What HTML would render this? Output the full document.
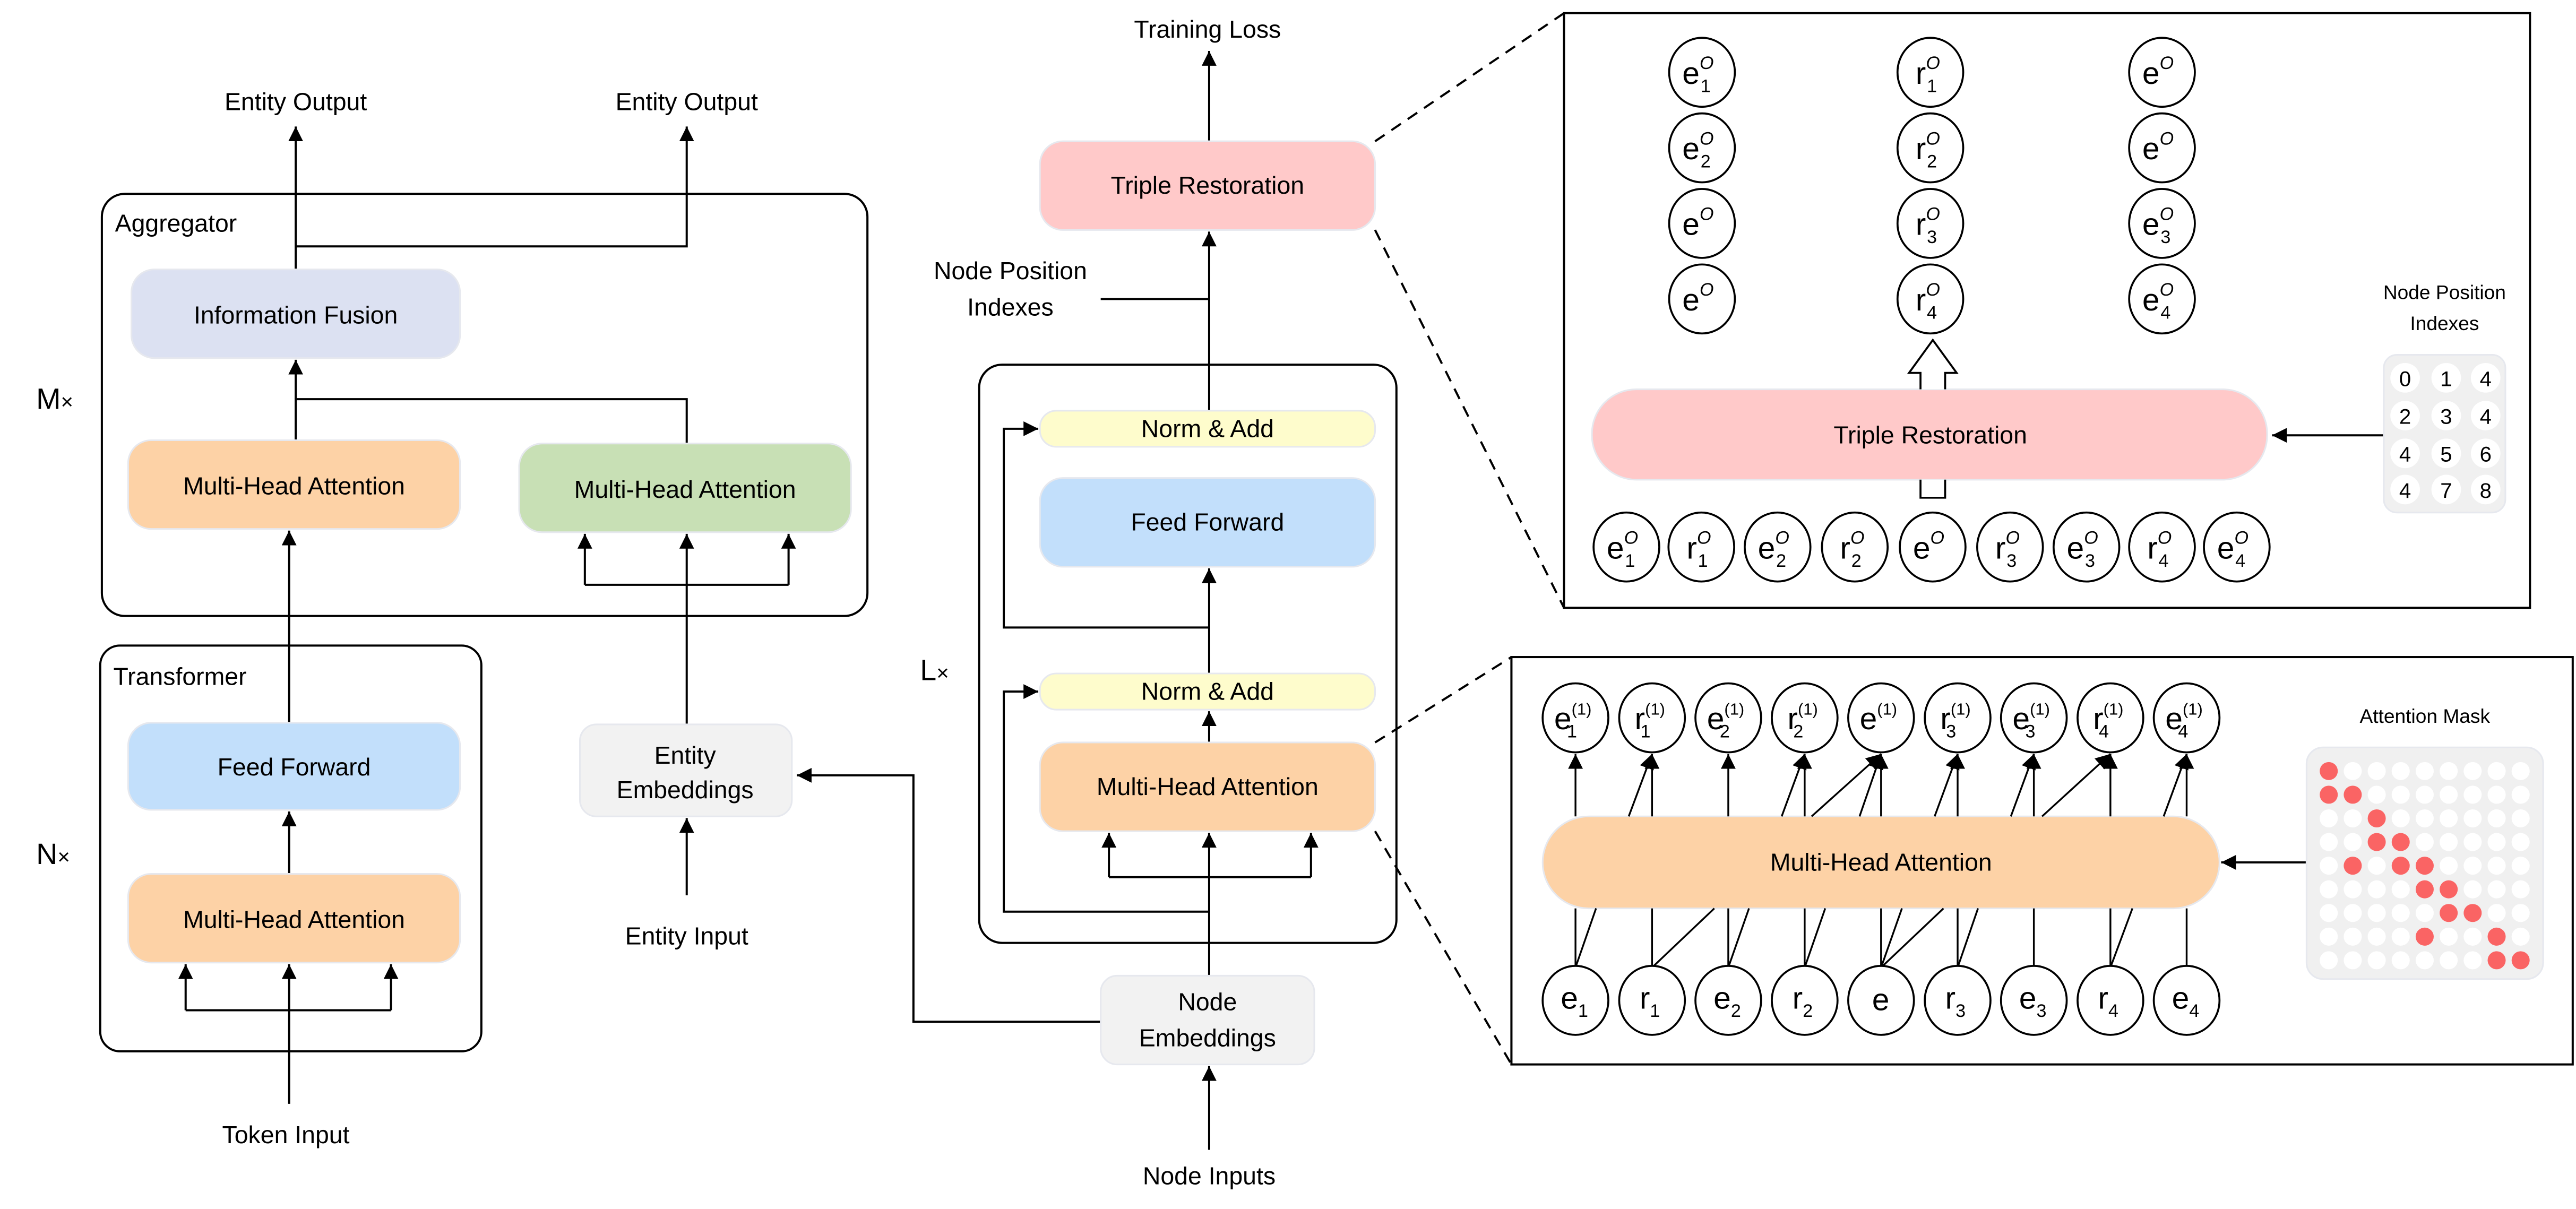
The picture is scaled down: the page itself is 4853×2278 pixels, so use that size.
<!DOCTYPE html>
<html><head><meta charset="utf-8"><style>
html,body{margin:0;padding:0;background:#fff;}
svg{display:block;}
text{font-family:"Liberation Sans",sans-serif;fill:#000;}
</style></head><body>
<svg width="4853" height="2278" viewBox="0 0 1568 736" xmlns="http://www.w3.org/2000/svg">
<defs>
<marker id="a" viewBox="0 0 10 10" refX="10" refY="5" markerWidth="9" markerHeight="9" markerUnits="userSpaceOnUse" orient="auto"><path d="M0,0 L10,5 L0,10 z" fill="#000"/></marker>
</defs>
<g stroke="#000" stroke-width="1.3" fill="none">
<!-- left part -->
<rect x="62" y="118" width="466" height="257" rx="14"/>
<rect x="61" y="393" width="232" height="247" rx="12"/>
<line x1="180" y1="164" x2="180" y2="77" marker-end="url(#a)"/>
<polyline points="180,150 418,150 418,77" marker-end="url(#a)"/>
<polyline points="180,268 180,243 418,243 418,270"/>
<line x1="180" y1="243" x2="180" y2="219" marker-end="url(#a)"/>
<line x1="176" y1="440" x2="176" y2="323" marker-end="url(#a)"/>
<line x1="176" y1="532" x2="176" y2="494" marker-end="url(#a)"/>
<polyline points="356,356 480,356"/>
<line x1="356" y1="356" x2="356" y2="325" marker-end="url(#a)"/>
<line x1="480" y1="356" x2="480" y2="325" marker-end="url(#a)"/>
<line x1="418" y1="441" x2="418" y2="325" marker-end="url(#a)"/>
<line x1="418" y1="545" x2="418" y2="498" marker-end="url(#a)"/>
<polyline points="113,615 238,615"/>
<line x1="113" y1="615" x2="113" y2="587" marker-end="url(#a)"/>
<line x1="238" y1="615" x2="238" y2="587" marker-end="url(#a)"/>
<line x1="176" y1="672" x2="176" y2="587" marker-end="url(#a)"/>
<polyline points="670,622 556,622 556,472 485,472" marker-end="url(#a)"/>
<!-- middle -->
<rect x="596" y="222" width="254" height="352" rx="14"/>
<line x1="736" y1="86" x2="736" y2="31" marker-end="url(#a)"/>
<line x1="736" y1="250" x2="736" y2="141" marker-end="url(#a)"/>
<line x1="670" y1="182" x2="736" y2="182"/>
<line x1="736" y1="410" x2="736" y2="346" marker-end="url(#a)"/>
<polyline points="736,382 611,382 611,261 632,261" marker-end="url(#a)"/>
<line x1="736" y1="452" x2="736" y2="433" marker-end="url(#a)"/>
<polyline points="675,534 798,534"/>
<line x1="675" y1="534" x2="675" y2="507" marker-end="url(#a)"/>
<line x1="798" y1="534" x2="798" y2="507" marker-end="url(#a)"/>
<line x1="736" y1="594" x2="736" y2="507" marker-end="url(#a)"/>
<polyline points="736,555 611,555 611,421 632,421" marker-end="url(#a)"/>
<line x1="736" y1="700" x2="736" y2="649" marker-end="url(#a)"/>
<!-- dashed -->
<line x1="837" y1="86" x2="952" y2="8" stroke-dasharray="7,5"/>
<line x1="837" y1="140" x2="952" y2="370" stroke-dasharray="7,5"/>
<line x1="837" y1="452" x2="920" y2="400" stroke-dasharray="7,5"/>
<line x1="837" y1="506" x2="920" y2="648" stroke-dasharray="7,5"/>
<!-- right boxes -->
<rect x="952" y="8" width="588" height="362"/>
<rect x="920" y="400" width="646" height="248"/>
<line x1="1451" y1="265" x2="1383" y2="265" marker-end="url(#a)"/>
<line x1="1404" y1="525" x2="1352" y2="525" marker-end="url(#a)"/>
</g>
<!-- colored boxes left -->
<g stroke="#e6e8ee" stroke-width="1">
<rect x="80" y="164" width="200" height="54" rx="14" fill="#dce1f2"/>
<rect x="78" y="268" width="202" height="54" rx="14" fill="#fdd2a6"/>
<rect x="316" y="270" width="202" height="54" rx="14" fill="#c8e0b5"/>
<rect x="78" y="440" width="202" height="53" rx="14" fill="#c2dffb"/>
<rect x="78" y="532" width="202" height="54" rx="14" fill="#fdd2a6"/>
<rect x="353" y="441" width="129" height="56" rx="10" fill="#f2f2f2"/>
<rect x="633" y="86" width="204" height="54" rx="14" fill="#ffc9c9"/>
<rect x="633" y="250" width="204" height="22" rx="10" fill="#fefccc"/>
<rect x="633" y="291" width="204" height="54" rx="14" fill="#c2dffb"/>
<rect x="633" y="410" width="204" height="22" rx="10" fill="#fefccc"/>
<rect x="633" y="452" width="204" height="54" rx="14" fill="#fdd2a6"/>
<rect x="670" y="594" width="130" height="54" rx="10" fill="#f2f2f2"/>
<rect x="969" y="237" width="411" height="55" rx="27" fill="#ffc9c9"/>
<rect x="939" y="497" width="412" height="56" rx="28" fill="#fdd2a6"/>
<rect x="1451" y="216" width="74" height="96" rx="8" fill="#f0f0f0"/>
<rect x="1404" y="455" width="144" height="141" rx="10" fill="#f0f0f0"/>
</g>
<!-- texts left/middle -->
<g font-size="15" text-anchor="middle">
<text x="180" y="67">Entity Output</text>
<text x="418" y="67">Entity Output</text>
<text x="180" y="197">Information Fusion</text>
<text x="179" y="301">Multi-Head Attention</text>
<text x="417" y="303">Multi-Head Attention</text>
<text x="179" y="472">Feed Forward</text>
<text x="179" y="565">Multi-Head Attention</text>
<text x="417" y="465">Entity</text>
<text x="417" y="486">Embeddings</text>
<text x="418" y="575">Entity Input</text>
<text x="174" y="696">Token Input</text>
<text x="735" y="23">Training Loss</text>
<text x="735" y="118">Triple Restoration</text>
<text x="615" y="170">Node Position</text>
<text x="615" y="192">Indexes</text>
<text x="735" y="266">Norm &amp; Add</text>
<text x="735" y="323">Feed Forward</text>
<text x="735" y="426">Norm &amp; Add</text>
<text x="735" y="484">Multi-Head Attention</text>
<text x="735" y="615">Node</text>
<text x="735" y="637">Embeddings</text>
<text x="736" y="721">Node Inputs</text>
<text x="1175" y="270">Triple Restoration</text>
<text x="1145" y="530">Multi-Head Attention</text>
</g>
<g font-size="15">
<text x="70" y="141">Aggregator</text>
<text x="69" y="417">Transformer</text>
<text x="22" y="249" font-size="18">M<tspan font-size="13">×</tspan></text>
<text x="22" y="526" font-size="18">N<tspan font-size="13">×</tspan></text>
<text x="560" y="414" font-size="18">L<tspan font-size="13">×</tspan></text>
</g>
<g font-size="12" text-anchor="middle">
<text x="1488" y="182">Node Position</text>
<text x="1488" y="201">Indexes</text>
<text x="1476" y="440">Attention Mask</text>
</g>
<!-- index grid -->
<g fill="#fff"><circle cx="1464" cy="230" r="9"/><circle cx="1489" cy="230" r="9"/><circle cx="1513" cy="230" r="9"/><circle cx="1464" cy="253" r="9"/><circle cx="1489" cy="253" r="9"/><circle cx="1513" cy="253" r="9"/><circle cx="1464" cy="276" r="9"/><circle cx="1489" cy="276" r="9"/><circle cx="1513" cy="276" r="9"/><circle cx="1464" cy="298" r="9"/><circle cx="1489" cy="298" r="9"/><circle cx="1513" cy="298" r="9"/></g>
<g font-size="13" text-anchor="middle">
<text x="1464" y="235">0</text><text x="1489" y="235">1</text><text x="1513" y="235">4</text>
<text x="1464" y="258">2</text><text x="1489" y="258">3</text><text x="1513" y="258">4</text>
<text x="1464" y="281">4</text><text x="1489" y="281">5</text><text x="1513" y="281">6</text>
<text x="1464" y="303">4</text><text x="1489" y="303">7</text><text x="1513" y="303">8</text>
</g>
<!-- hollow arrow -->
<path d="M1169,292 L1169,303 L1184,303 L1184,292" fill="#fff" stroke="#000" stroke-width="1.2"/>
<path d="M1169,237 L1169,227 L1162,227 L1176.5,207 L1191,227 L1184,227 L1184,237" fill="#fff" stroke="#000" stroke-width="1.2"/>
<!-- attention mask dots -->
<g fill="#fff">
<circle cx="1417.5" cy="469.4" r="5.5"/><circle cx="1432.1" cy="469.4" r="5.5"/><circle cx="1446.7" cy="469.4" r="5.5"/><circle cx="1461.3" cy="469.4" r="5.5"/><circle cx="1475.9" cy="469.4" r="5.5"/><circle cx="1490.5" cy="469.4" r="5.5"/><circle cx="1505.1" cy="469.4" r="5.5"/><circle cx="1519.7" cy="469.4" r="5.5"/><circle cx="1534.3" cy="469.4" r="5.5"/>
<circle cx="1417.5" cy="483.8" r="5.5"/><circle cx="1432.1" cy="483.8" r="5.5"/><circle cx="1446.7" cy="483.8" r="5.5"/><circle cx="1461.3" cy="483.8" r="5.5"/><circle cx="1475.9" cy="483.8" r="5.5"/><circle cx="1490.5" cy="483.8" r="5.5"/><circle cx="1505.1" cy="483.8" r="5.5"/><circle cx="1519.7" cy="483.8" r="5.5"/><circle cx="1534.3" cy="483.8" r="5.5"/>
<circle cx="1417.5" cy="498.2" r="5.5"/><circle cx="1432.1" cy="498.2" r="5.5"/><circle cx="1446.7" cy="498.2" r="5.5"/><circle cx="1461.3" cy="498.2" r="5.5"/><circle cx="1475.9" cy="498.2" r="5.5"/><circle cx="1490.5" cy="498.2" r="5.5"/><circle cx="1505.1" cy="498.2" r="5.5"/><circle cx="1519.7" cy="498.2" r="5.5"/><circle cx="1534.3" cy="498.2" r="5.5"/>
<circle cx="1417.5" cy="512.6" r="5.5"/><circle cx="1432.1" cy="512.6" r="5.5"/><circle cx="1446.7" cy="512.6" r="5.5"/><circle cx="1461.3" cy="512.6" r="5.5"/><circle cx="1475.9" cy="512.6" r="5.5"/><circle cx="1490.5" cy="512.6" r="5.5"/><circle cx="1505.1" cy="512.6" r="5.5"/><circle cx="1519.7" cy="512.6" r="5.5"/><circle cx="1534.3" cy="512.6" r="5.5"/>
<circle cx="1417.5" cy="527" r="5.5"/><circle cx="1432.1" cy="527" r="5.5"/><circle cx="1446.7" cy="527" r="5.5"/><circle cx="1461.3" cy="527" r="5.5"/><circle cx="1475.9" cy="527" r="5.5"/><circle cx="1490.5" cy="527" r="5.5"/><circle cx="1505.1" cy="527" r="5.5"/><circle cx="1519.7" cy="527" r="5.5"/><circle cx="1534.3" cy="527" r="5.5"/>
<circle cx="1417.5" cy="541.4" r="5.5"/><circle cx="1432.1" cy="541.4" r="5.5"/><circle cx="1446.7" cy="541.4" r="5.5"/><circle cx="1461.3" cy="541.4" r="5.5"/><circle cx="1475.9" cy="541.4" r="5.5"/><circle cx="1490.5" cy="541.4" r="5.5"/><circle cx="1505.1" cy="541.4" r="5.5"/><circle cx="1519.7" cy="541.4" r="5.5"/><circle cx="1534.3" cy="541.4" r="5.5"/>
<circle cx="1417.5" cy="555.8" r="5.5"/><circle cx="1432.1" cy="555.8" r="5.5"/><circle cx="1446.7" cy="555.8" r="5.5"/><circle cx="1461.3" cy="555.8" r="5.5"/><circle cx="1475.9" cy="555.8" r="5.5"/><circle cx="1490.5" cy="555.8" r="5.5"/><circle cx="1505.1" cy="555.8" r="5.5"/><circle cx="1519.7" cy="555.8" r="5.5"/><circle cx="1534.3" cy="555.8" r="5.5"/>
<circle cx="1417.5" cy="570.2" r="5.5"/><circle cx="1432.1" cy="570.2" r="5.5"/><circle cx="1446.7" cy="570.2" r="5.5"/><circle cx="1461.3" cy="570.2" r="5.5"/><circle cx="1475.9" cy="570.2" r="5.5"/><circle cx="1490.5" cy="570.2" r="5.5"/><circle cx="1505.1" cy="570.2" r="5.5"/><circle cx="1519.7" cy="570.2" r="5.5"/><circle cx="1534.3" cy="570.2" r="5.5"/>
<circle cx="1417.5" cy="584.6" r="5.5"/><circle cx="1432.1" cy="584.6" r="5.5"/><circle cx="1446.7" cy="584.6" r="5.5"/><circle cx="1461.3" cy="584.6" r="5.5"/><circle cx="1475.9" cy="584.6" r="5.5"/><circle cx="1490.5" cy="584.6" r="5.5"/><circle cx="1505.1" cy="584.6" r="5.5"/><circle cx="1519.7" cy="584.6" r="5.5"/><circle cx="1534.3" cy="584.6" r="5.5"/>
</g>
<g fill="#fa6464">
<circle cx="1417.5" cy="469.4" r="5.5"/>
<circle cx="1417.5" cy="483.8" r="5.5"/><circle cx="1432.1" cy="483.8" r="5.5"/>
<circle cx="1446.7" cy="498.2" r="5.5"/>
<circle cx="1446.7" cy="512.6" r="5.5"/><circle cx="1461.3" cy="512.6" r="5.5"/>
<circle cx="1432.1" cy="527" r="5.5"/><circle cx="1461.3" cy="527" r="5.5"/><circle cx="1475.9" cy="527" r="5.5"/>
<circle cx="1475.9" cy="541.4" r="5.5"/><circle cx="1490.5" cy="541.4" r="5.5"/>
<circle cx="1490.5" cy="555.8" r="5.5"/><circle cx="1505.1" cy="555.8" r="5.5"/>
<circle cx="1475.9" cy="570.2" r="5.5"/><circle cx="1519.7" cy="570.2" r="5.5"/>
<circle cx="1519.7" cy="584.6" r="5.5"/><circle cx="1534.3" cy="584.6" r="5.5"/>
</g>
<!-- lower box connections -->
<g stroke="#000" stroke-width="1.1" fill="none">
<line x1="959" y1="497" x2="959" y2="459" marker-end="url(#a)"/>
<line x1="1005.6" y1="497" x2="1005.6" y2="459" marker-end="url(#a)"/>
<line x1="1052" y1="497" x2="1052" y2="459" marker-end="url(#a)"/>
<line x1="1098.5" y1="497" x2="1098.5" y2="459" marker-end="url(#a)"/>
<line x1="1145" y1="497" x2="1145" y2="459" marker-end="url(#a)"/>
<line x1="1191.6" y1="497" x2="1191.6" y2="459" marker-end="url(#a)"/>
<line x1="1238" y1="497" x2="1238" y2="459" marker-end="url(#a)"/>
<line x1="1284.6" y1="497" x2="1284.6" y2="459" marker-end="url(#a)"/>
<line x1="1331" y1="497" x2="1331" y2="459" marker-end="url(#a)"/>
<line x1="991.4" y1="497" x2="1005.6" y2="459" marker-end="url(#a)"/>
<line x1="1084.5" y1="497" x2="1098.5" y2="459" marker-end="url(#a)"/>
<line x1="1102.7" y1="497" x2="1145" y2="459" marker-end="url(#a)"/>
<line x1="1131.9" y1="497" x2="1145" y2="459" marker-end="url(#a)"/>
<line x1="1177.6" y1="497" x2="1191.6" y2="459" marker-end="url(#a)"/>
<line x1="1224" y1="497" x2="1238" y2="459" marker-end="url(#a)"/>
<line x1="1243" y1="497" x2="1284.6" y2="459" marker-end="url(#a)"/>
<line x1="1317" y1="497" x2="1331" y2="459" marker-end="url(#a)"/>
<line x1="959" y1="589" x2="959" y2="553"/><line x1="1005.6" y1="589" x2="1005.6" y2="553"/><line x1="1052" y1="589" x2="1052" y2="553"/><line x1="1098.5" y1="589" x2="1098.5" y2="553"/><line x1="1145" y1="589" x2="1145" y2="553"/><line x1="1191.6" y1="589" x2="1191.6" y2="553"/><line x1="1238" y1="589" x2="1238" y2="553"/><line x1="1284.6" y1="589" x2="1284.6" y2="553"/><line x1="1331" y1="589" x2="1331" y2="553"/>
<line x1="959" y1="589" x2="971.5" y2="553"/><line x1="1005.6" y1="589" x2="1043.5" y2="553"/><line x1="1052" y1="589" x2="1064.6" y2="553"/><line x1="1098.5" y1="589" x2="1111" y2="553"/><line x1="1145" y1="589" x2="1157.7" y2="553"/><line x1="1145" y1="589" x2="1183" y2="553"/><line x1="1191.6" y1="589" x2="1204" y2="553"/><line x1="1284.6" y1="589" x2="1298" y2="553"/>
</g>
<!-- node ellipses -->
<g fill="#fff" stroke="#000" stroke-width="1.2">
<ellipse cx="1036" cy="44" rx="20" ry="21"/><ellipse cx="1036" cy="90" rx="20" ry="21"/><ellipse cx="1036" cy="136" rx="20" ry="21"/><ellipse cx="1036" cy="182" rx="20" ry="21"/>
<ellipse cx="1175" cy="44" rx="20" ry="21"/><ellipse cx="1175" cy="90" rx="20" ry="21"/><ellipse cx="1175" cy="136" rx="20" ry="21"/><ellipse cx="1175" cy="182" rx="20" ry="21"/>
<ellipse cx="1316" cy="44" rx="20" ry="21"/><ellipse cx="1316" cy="90" rx="20" ry="21"/><ellipse cx="1316" cy="136" rx="20" ry="21"/><ellipse cx="1316" cy="182" rx="20" ry="21"/>
<ellipse cx="990" cy="333" rx="20" ry="21"/><ellipse cx="1035.6" cy="333" rx="20" ry="21"/><ellipse cx="1082" cy="333" rx="20" ry="21"/><ellipse cx="1129" cy="333" rx="20" ry="21"/><ellipse cx="1176.4" cy="333" rx="20" ry="21"/><ellipse cx="1223.5" cy="333" rx="20" ry="21"/><ellipse cx="1270" cy="333" rx="20" ry="21"/><ellipse cx="1316" cy="333" rx="20" ry="21"/><ellipse cx="1361.5" cy="333" rx="20" ry="21"/>
<ellipse cx="959" cy="437" rx="20" ry="21"/><ellipse cx="1005.6" cy="437" rx="20" ry="21"/><ellipse cx="1052" cy="437" rx="20" ry="21"/><ellipse cx="1098.5" cy="437" rx="20" ry="21"/><ellipse cx="1145" cy="437" rx="20" ry="21"/><ellipse cx="1191.6" cy="437" rx="20" ry="21"/><ellipse cx="1238" cy="437" rx="20" ry="21"/><ellipse cx="1284.6" cy="437" rx="20" ry="21"/><ellipse cx="1331" cy="437" rx="20" ry="21"/>
<ellipse cx="959" cy="609" rx="20" ry="21"/><ellipse cx="1005.6" cy="609" rx="20" ry="21"/><ellipse cx="1052" cy="609" rx="20" ry="21"/><ellipse cx="1098.5" cy="609" rx="20" ry="21"/><ellipse cx="1145" cy="609" rx="20" ry="21"/><ellipse cx="1191.6" cy="609" rx="20" ry="21"/><ellipse cx="1238" cy="609" rx="20" ry="21"/><ellipse cx="1284.6" cy="609" rx="20" ry="21"/><ellipse cx="1331" cy="609" rx="20" ry="21"/>
</g>
<!-- node labels: top box (letter, superscript O, subscript) -->
<g font-size="19">
<text x="1024" y="51">e<tspan font-size="11" dy="-9" font-style="italic">O</tspan><tspan font-size="11" dx="-8" dy="14">1</tspan></text>
<text x="1024" y="97">e<tspan font-size="11" dy="-9" font-style="italic">O</tspan><tspan font-size="11" dx="-8" dy="14">2</tspan></text>
<text x="1024" y="143">e<tspan font-size="11" dy="-9" font-style="italic">O</tspan></text>
<text x="1024" y="189">e<tspan font-size="11" dy="-9" font-style="italic">O</tspan></text>
<text x="1166" y="51">r<tspan font-size="11" dy="-9" font-style="italic">O</tspan><tspan font-size="11" dx="-8" dy="14">1</tspan></text>
<text x="1166" y="97">r<tspan font-size="11" dy="-9" font-style="italic">O</tspan><tspan font-size="11" dx="-8" dy="14">2</tspan></text>
<text x="1166" y="143">r<tspan font-size="11" dy="-9" font-style="italic">O</tspan><tspan font-size="11" dx="-8" dy="14">3</tspan></text>
<text x="1166" y="189">r<tspan font-size="11" dy="-9" font-style="italic">O</tspan><tspan font-size="11" dx="-8" dy="14">4</tspan></text>
<text x="1304" y="51">e<tspan font-size="11" dy="-9" font-style="italic">O</tspan></text>
<text x="1304" y="97">e<tspan font-size="11" dy="-9" font-style="italic">O</tspan></text>
<text x="1304" y="143">e<tspan font-size="11" dy="-9" font-style="italic">O</tspan><tspan font-size="11" dx="-8" dy="14">3</tspan></text>
<text x="1304" y="189">e<tspan font-size="11" dy="-9" font-style="italic">O</tspan><tspan font-size="11" dx="-8" dy="14">4</tspan></text>
<text x="978" y="340">e<tspan font-size="11" dy="-9" font-style="italic">O</tspan><tspan font-size="11" dx="-8" dy="14">1</tspan></text>
<text x="1026.6" y="340">r<tspan font-size="11" dy="-9" font-style="italic">O</tspan><tspan font-size="11" dx="-8" dy="14">1</tspan></text>
<text x="1070" y="340">e<tspan font-size="11" dy="-9" font-style="italic">O</tspan><tspan font-size="11" dx="-8" dy="14">2</tspan></text>
<text x="1120" y="340">r<tspan font-size="11" dy="-9" font-style="italic">O</tspan><tspan font-size="11" dx="-8" dy="14">2</tspan></text>
<text x="1164.4" y="340">e<tspan font-size="11" dy="-9" font-style="italic">O</tspan></text>
<text x="1214.5" y="340">r<tspan font-size="11" dy="-9" font-style="italic">O</tspan><tspan font-size="11" dx="-8" dy="14">3</tspan></text>
<text x="1258" y="340">e<tspan font-size="11" dy="-9" font-style="italic">O</tspan><tspan font-size="11" dx="-8" dy="14">3</tspan></text>
<text x="1307" y="340">r<tspan font-size="11" dy="-9" font-style="italic">O</tspan><tspan font-size="11" dx="-8" dy="14">4</tspan></text>
<text x="1349.5" y="340">e<tspan font-size="11" dy="-9" font-style="italic">O</tspan><tspan font-size="11" dx="-8" dy="14">4</tspan></text>
<!-- lower box top (1) -->
<text x="946" y="444">e<tspan font-size="10" dy="-9">(1)</tspan><tspan font-size="11" dx="-15" dy="14">1</tspan></text>
<text x="995" y="444">r<tspan font-size="10" dy="-9">(1)</tspan><tspan font-size="11" dx="-15" dy="14">1</tspan></text>
<text x="1039" y="444">e<tspan font-size="10" dy="-9">(1)</tspan><tspan font-size="11" dx="-15" dy="14">2</tspan></text>
<text x="1088" y="444">r<tspan font-size="10" dy="-9">(1)</tspan><tspan font-size="11" dx="-15" dy="14">2</tspan></text>
<text x="1132" y="444">e<tspan font-size="10" dy="-9">(1)</tspan></text>
<text x="1181" y="444">r<tspan font-size="10" dy="-9">(1)</tspan><tspan font-size="11" dx="-15" dy="14">3</tspan></text>
<text x="1225" y="444">e<tspan font-size="10" dy="-9">(1)</tspan><tspan font-size="11" dx="-15" dy="14">3</tspan></text>
<text x="1274" y="444">r<tspan font-size="10" dy="-9">(1)</tspan><tspan font-size="11" dx="-15" dy="14">4</tspan></text>
<text x="1318" y="444">e<tspan font-size="10" dy="-9">(1)</tspan><tspan font-size="11" dx="-15" dy="14">4</tspan></text>
<!-- lower box bottom -->
<text x="950" y="614">e<tspan font-size="11" dy="5">1</tspan></text>
<text x="998" y="614">r<tspan font-size="11" dy="5">1</tspan></text>
<text x="1043" y="614">e<tspan font-size="11" dy="5">2</tspan></text>
<text x="1091" y="614">r<tspan font-size="11" dy="5">2</tspan></text>
<text x="1139.5" y="615">e</text>
<text x="1184" y="614">r<tspan font-size="11" dy="5">3</tspan></text>
<text x="1229" y="614">e<tspan font-size="11" dy="5">3</tspan></text>
<text x="1277" y="614">r<tspan font-size="11" dy="5">4</tspan></text>
<text x="1322" y="614">e<tspan font-size="11" dy="5">4</tspan></text>
</g>
</svg>
</body></html>
